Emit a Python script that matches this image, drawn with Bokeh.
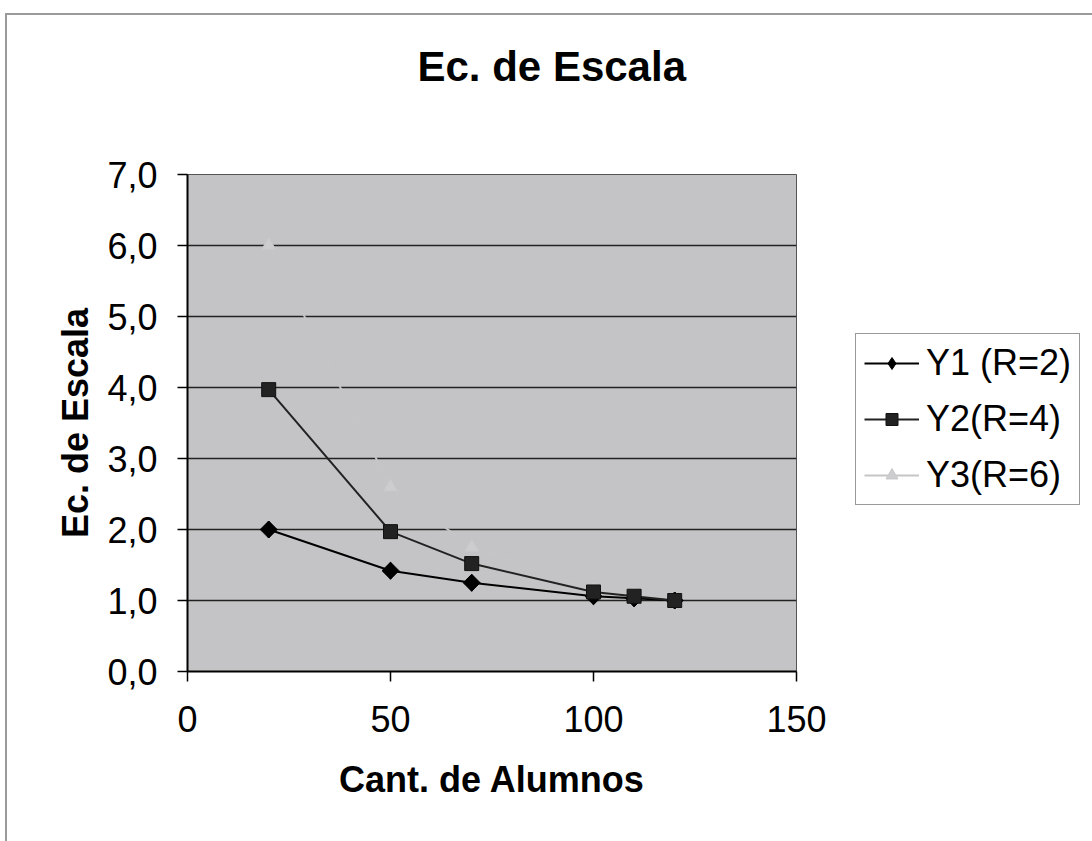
import math
from bokeh.plotting import figure
from bokeh.models import Range1d, FixedTicker, Legend, LegendItem, Title
from bokeh.embed import file_html
from bokeh.resources import INLINE

# Data
alumnos = [20, 50, 70, 100, 110, 120]
y1 = [2.0, 1.42, 1.25, 1.06, 1.03, 1.0]
y2 = [3.97, 1.97, 1.52, 1.12, 1.06, 1.0]
y3 = [6.0, 2.6, 1.75, 1.15, 1.08, 1.0]
series_names = ["Y1 (R=2)", "Y2(R=4)", "Y3(R=6)"]
y_ticks = [0, 1, 2, 3, 4, 5, 6, 7]
x_ticks = [0, 50, 100, 150]

FONT = "Liberation Sans"

p = figure(frame_width=609, frame_height=497, output_backend="svg", toolbar_location=None,
           x_range=Range1d(0, 150), y_range=Range1d(0, 7),
           min_border_left=180, min_border_right=296, min_border_top=159, min_border_bottom=170,
           background_fill_color="#c4c4c6", border_fill_color="white",
           styles={"margin-left": "5px", "margin-top": "13px",
                   "border-left": "2px solid #9a9a9a", "border-top": "2px solid #9a9a9a"})
p.outline_line_color = "#555555"
p.outline_line_width = 1

p.title.text = "Ec. de Escala"
p.title.align = "left"
p.title.offset = 230
p.title.standoff = 0
p.title.text_font = FONT
p.title.text_font_size = "42px"
p.title.text_font_style = "bold"
p.title.text_color = "black"

spacer = Title(text=" ", text_font_size="1px", standoff=82)
p.add_layout(spacer, "above")

# grid
p.xgrid.visible = False
p.ygrid.ticker = FixedTicker(ticks=y_ticks)
p.ygrid.grid_line_color = "#222222"
p.ygrid.grid_line_width = 1.5

# axes
for ax in (p.xaxis[0], p.yaxis[0]):
    ax.axis_line_color = "black"
    ax.axis_line_width = 2
    ax.major_tick_line_color = "black"
    ax.major_tick_line_width = 1.5
    ax.major_tick_out = 10
    ax.major_tick_in = 0
    ax.minor_tick_line_color = None
    ax.major_label_text_font = FONT
    ax.major_label_text_font_size = "36px"
    ax.major_label_text_color = "black"
    ax.axis_label_text_font = FONT
    ax.axis_label_text_font_size = "36px"
    ax.axis_label_text_font_style = "bold"
    ax.axis_label_text_color = "black"

p.xaxis.ticker = FixedTicker(ticks=x_ticks)
p.yaxis.ticker = FixedTicker(ticks=y_ticks)
p.yaxis.major_label_overrides = {v: f"{v},0" for v in y_ticks}
p.xaxis.axis_label = "Cant. de Alumnos"
p.yaxis.axis_label = "Ec. de Escala"
p.xaxis.major_label_standoff = 24
p.xaxis.axis_label_standoff = 24
p.yaxis.major_label_standoff = 20
p.yaxis.axis_label_standoff = 8

# series
l3 = p.line(alumnos, y3, line_color="#c5c5c7", line_width=2)
m3 = p.scatter(alumnos, y3, marker="triangle", size=14, fill_color="#cdcdcf", line_color="#c8c8ca")
l1 = p.line(alumnos, y1, line_color="black", line_width=2)
d1 = p.scatter(alumnos, y1, marker="diamond", size=17, fill_color="black", line_color="black")
m1 = p.scatter(alumnos, y1, marker="square", angle=math.pi / 4, size=12,
               fill_color="black", line_color="black")
l2 = p.line(alumnos, y2, line_color="#222222", line_width=2)
m2 = p.scatter(alumnos, y2, marker="square", size=14, fill_color="#222222", line_color="#111111")

legend = Legend(items=[LegendItem(label=series_names[0], renderers=[l1, d1]),
                       LegendItem(label=series_names[1], renderers=[l2, m2]),
                       LegendItem(label=series_names[2], renderers=[l3, m3])],
                location=(59, 166))
legend.label_text_font = FONT
legend.label_text_font_size = "36px"
legend.label_text_color = "black"
legend.glyph_width = 55
legend.glyph_height = 30
legend.label_standoff = 7
legend.spacing = 14
legend.padding = 8
legend.margin = 0
legend.border_line_color = "#333333"
legend.border_line_width = 1
legend.background_fill_color = "white"
legend.background_fill_alpha = 1
p.add_layout(legend, "right")

open("out.html", "w").write(file_html(p, INLINE))
